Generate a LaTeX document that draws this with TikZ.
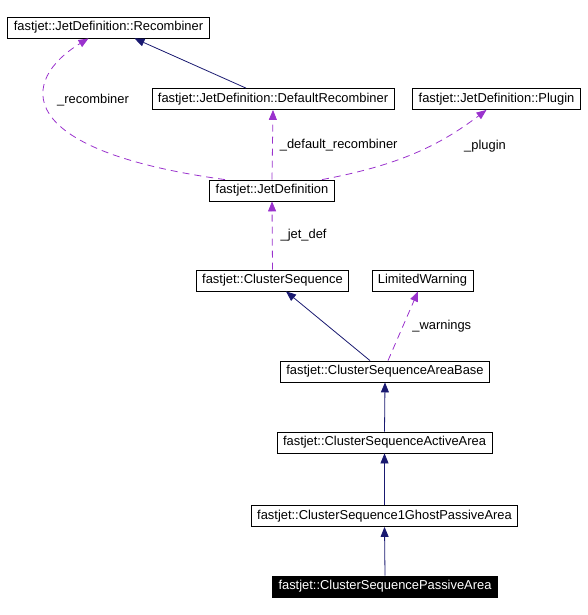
\documentclass[tikz,border=0pt]{standalone}
\usepackage{fontspec}
\setmainfont{Liberation Sans}
\usetikzlibrary{arrows.meta,positioning}

\definecolor{inherit}{HTML}{191970}
\definecolor{member}{HTML}{9A32CD}

\begin{document}
\begin{tikzpicture}[x=1pt,y=-1pt,
    font=\fontsize{12.9}{14}\selectfont,
    cls/.style={draw,line width=0.8pt,inner xsep=6pt,inner ysep=0pt,minimum height=21pt},
    this/.style={cls,fill=black,text=white},
    isa/.style={inherit,line width=0.8pt,-{Triangle[length=10pt,width=8pt]}},
    uses/.style={member,line width=0.8pt,dash pattern=on 7pt off 5pt,-{Triangle[length=10pt,width=8pt]}},
    lbl/.style={inner sep=0pt,anchor=west,text=black}]
      \useasboundingbox (0,0) rectangle (588,615);

      \node[cls]  (rec)    at (108.5,27.5) {fastjet::JetDefinition::Recombiner};
      \node[cls]  (defrec) at (273,99)     {fastjet::JetDefinition::DefaultRecombiner};
      \node[cls]  (plugin) at (496.5,99)   {fastjet::JetDefinition::Plugin};
      \node[cls]  (jetdef) at (272,190.5)  {fastjet::JetDefinition};
      \node[cls]  (cs)     at (272.5,280.5){fastjet::ClusterSequence};
      \node[cls]  (warn)   at (422.5,280.5){LimitedWarning};
      \node[cls]  (csab)   at (385,371.5)  {fastjet::ClusterSequenceAreaBase};
      \node[cls]  (csaa)   at (384.5,442.5){fastjet::ClusterSequenceActiveArea};
      \node[cls]  (cs1g)   at (384.5,516)  {fastjet::ClusterSequence1GhostPassiveArea};
      \node[this] (cspa)   at (385,586.5)  {fastjet::ClusterSequencePassiveArea};

      % inheritance
      \draw[isa] ([xshift=-27pt]defrec.north) -- ([xshift=26pt]rec.south);
      \draw[isa] ([xshift=-15pt]csab.north) -- ([xshift=13.5pt]cs.south);
      \draw[isa] (csaa.north) -- (csab.south);
      \draw[isa] (cs1g.north) -- (csaa.south);
      \draw[isa] (cspa.north) -- (cs1g.south);

      % members
      \draw[uses] ([xshift=-47pt]jetdef.north) .. controls (10,150) and (20,80) .. ([xshift=-20pt]rec.south);
      \node[lbl] (lrec) at (57,100) {\_recombiner};
      \draw[uses] (jetdef.north) -- (defrec.south)
        node[lbl,midway,xshift=7pt] (ldef) {\_default\_recombiner};
      \draw[uses] ([xshift=50pt]jetdef.north) .. controls (400,165) and (440,145) .. ([xshift=-10pt]plugin.south);
      \node[lbl] (lplug) at (464,146) {\_plugin};
      \draw[uses] (cs.north) -- (jetdef.south)
        node[lbl,midway,xshift=8pt] (ljet) {\_jet\_def};
      \draw[uses] ([xshift=3pt]csab.north) -- ([xshift=-4.5pt]warn.south)
        node[lbl,midway,xshift=9pt] (lwarn) {\_warnings};
    \end{tikzpicture}
\end{document}
